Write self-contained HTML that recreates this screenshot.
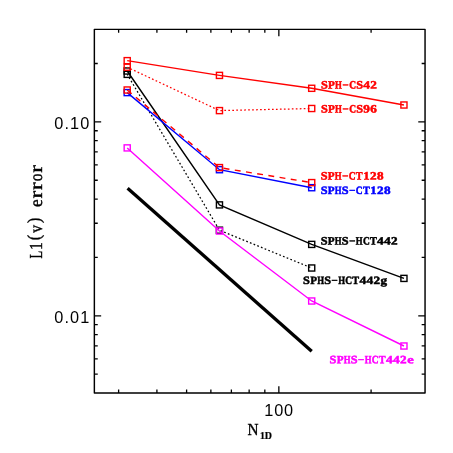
<!DOCTYPE html>
<html lang="en"><head><meta charset="utf-8"><title>L1(v) error</title>
<style>html,body{margin:0;padding:0;background:#fff;}svg{display:block;will-change:transform;}</style></head>
<body>
<svg width="453" height="453" viewBox="0 0 453 453">
<rect width="453" height="453" fill="#fff"/>
<line x1="127.6" y1="188.15" x2="311.7" y2="351.2" stroke="#000" stroke-width="3.3"/>
<polyline points="127.21,74.35 219.46,230.20 311.70,268.00" fill="none" stroke="#000" stroke-width="1.25" stroke-dasharray="1.7 2.27" stroke-dashoffset="0.35"/>
<rect x="124.16" y="71.30" width="6.1" height="6.1" fill="none" stroke="#000" stroke-width="1.4"/>
<rect x="216.41" y="227.15" width="6.1" height="6.1" fill="none" stroke="#000" stroke-width="1.4"/>
<rect x="308.65" y="264.95" width="6.1" height="6.1" fill="none" stroke="#000" stroke-width="1.4"/>
<polyline points="127.21,71.00 219.46,204.90 311.70,244.40 403.94,278.40" fill="none" stroke="#000" stroke-width="1.4"/>
<rect x="124.16" y="67.95" width="6.1" height="6.1" fill="none" stroke="#000" stroke-width="1.4"/>
<rect x="216.41" y="201.85" width="6.1" height="6.1" fill="none" stroke="#000" stroke-width="1.4"/>
<rect x="308.65" y="241.35" width="6.1" height="6.1" fill="none" stroke="#000" stroke-width="1.4"/>
<rect x="400.89" y="275.35" width="6.1" height="6.1" fill="none" stroke="#000" stroke-width="1.4"/>
<polyline points="127.21,147.90 219.46,231.00 311.70,301.00 403.94,346.00" fill="none" stroke="#f0f" stroke-width="1.4"/>
<rect x="124.16" y="144.85" width="6.1" height="6.1" fill="none" stroke="#f0f" stroke-width="1.4"/>
<rect x="216.41" y="227.95" width="6.1" height="6.1" fill="none" stroke="#f0f" stroke-width="1.4"/>
<rect x="308.65" y="297.95" width="6.1" height="6.1" fill="none" stroke="#f0f" stroke-width="1.4"/>
<rect x="400.89" y="342.95" width="6.1" height="6.1" fill="none" stroke="#f0f" stroke-width="1.4"/>
<polyline points="127.21,92.60 219.46,169.70 311.70,187.70" fill="none" stroke="#00f" stroke-width="1.4"/>
<rect x="124.16" y="89.55" width="6.1" height="6.1" fill="none" stroke="#00f" stroke-width="1.4"/>
<rect x="216.41" y="166.65" width="6.1" height="6.1" fill="none" stroke="#00f" stroke-width="1.4"/>
<rect x="308.65" y="184.65" width="6.1" height="6.1" fill="none" stroke="#00f" stroke-width="1.4"/>
<polyline points="127.21,67.20 219.46,110.60 311.70,108.50" fill="none" stroke="#f00" stroke-width="1.25" stroke-dasharray="1.7 2.27" stroke-dashoffset="0.35"/>
<rect x="124.16" y="64.15" width="6.1" height="6.1" fill="none" stroke="#f00" stroke-width="1.4"/>
<rect x="216.41" y="107.55" width="6.1" height="6.1" fill="none" stroke="#f00" stroke-width="1.4"/>
<rect x="308.65" y="105.45" width="6.1" height="6.1" fill="none" stroke="#f00" stroke-width="1.4"/>
<polyline points="127.21,90.00 219.46,167.60 311.70,182.60" fill="none" stroke="#f00" stroke-width="1.4" stroke-dasharray="5.9 5.44"/>
<rect x="124.16" y="86.95" width="6.1" height="6.1" fill="none" stroke="#f00" stroke-width="1.4"/>
<rect x="216.41" y="164.55" width="6.1" height="6.1" fill="none" stroke="#f00" stroke-width="1.4"/>
<rect x="308.65" y="179.55" width="6.1" height="6.1" fill="none" stroke="#f00" stroke-width="1.4"/>
<polyline points="127.21,60.65 219.46,75.40 311.70,88.30 403.94,105.00" fill="none" stroke="#f00" stroke-width="1.4"/>
<rect x="124.16" y="57.60" width="6.1" height="6.1" fill="none" stroke="#f00" stroke-width="1.4"/>
<rect x="216.41" y="72.35" width="6.1" height="6.1" fill="none" stroke="#f00" stroke-width="1.4"/>
<rect x="308.65" y="85.25" width="6.1" height="6.1" fill="none" stroke="#f00" stroke-width="1.4"/>
<rect x="400.89" y="101.95" width="6.1" height="6.1" fill="none" stroke="#f00" stroke-width="1.4"/>
<rect x="94.36" y="29.35" width="330.69" height="363.60" fill="none" stroke="#000" stroke-width="1.45" stroke-linejoin="round"/>
<path d="M118.62 392.95v-3.4M118.62 29.35v3.4M156.91 392.95v-3.4M156.91 29.35v3.4M186.60 392.95v-3.4M186.60 29.35v3.4M210.87 392.95v-3.4M210.87 29.35v3.4M231.38 392.95v-3.4M231.38 29.35v3.4M249.15 392.95v-3.4M249.15 29.35v3.4M264.83 392.95v-3.4M264.83 29.35v3.4M278.85 392.95v-6.8M278.85 29.35v6.8M371.09 392.95v-3.4M371.09 29.35v3.4M94.36 63.50h3.4M425.05 63.50h-3.4M94.36 121.87h6.8M425.05 121.87h-6.8M94.36 130.74h3.4M425.05 130.74h-3.4M94.36 140.66h3.4M425.05 140.66h-3.4M94.36 151.91h3.4M425.05 151.91h-3.4M94.36 164.89h3.4M425.05 164.89h-3.4M94.36 180.24h3.4M425.05 180.24h-3.4M94.36 199.04h3.4M425.05 199.04h-3.4M94.36 223.26h3.4M425.05 223.26h-3.4M94.36 257.41h3.4M425.05 257.41h-3.4M94.36 315.78h6.8M425.05 315.78h-6.8M94.36 324.66h3.4M425.05 324.66h-3.4M94.36 334.58h3.4M425.05 334.58h-3.4M94.36 345.82h3.4M425.05 345.82h-3.4M94.36 358.80h3.4M425.05 358.80h-3.4M94.36 374.16h3.4M425.05 374.16h-3.4" stroke="#000" stroke-width="1.3" fill="none"/>
<text x="54.3" y="128.65" letter-spacing="1.1" font-family="Liberation Sans, sans-serif" font-size="16.3" fill="#000">0.10</text>
<text x="54.3" y="322.55" letter-spacing="1.1" font-family="Liberation Sans, sans-serif" font-size="16.3" fill="#000">0.01</text>
<text x="264.3" y="415.85" letter-spacing="0.8" font-family="Liberation Sans, sans-serif" font-size="16.3" fill="#000">100</text>
<text transform="translate(247.5 435.2) scale(0.93 1)" font-family="Liberation Serif, serif" font-size="16.4" fill="#000" stroke="#000" stroke-width="0.35">N</text>
<text transform="translate(259.9 439.4) scale(0.91 1)" font-family="Liberation Serif, serif" font-weight="bold" font-size="10.9" fill="#000" stroke="#000" stroke-width="0.25">1D</text>
<g transform="translate(41.9 258.9) rotate(-90)"><text transform="translate(4.29 0.00) scale(0.690 1) rotate(0.06)" text-anchor="middle" font-family="Liberation Serif" font-weight="normal" font-size="18.3" fill="#000" stroke="#000" stroke-width="0.4">L</text>
<text transform="translate(12.86 0.00) scale(0.843 1) rotate(0.06)" text-anchor="middle" font-family="Liberation Serif" font-weight="normal" font-size="18.3" fill="#000" stroke="#000" stroke-width="0.4">1</text>
<text transform="translate(21.43 -2.00) scale(0.872 1) rotate(0.06)" text-anchor="middle" font-family="Liberation Serif" font-weight="normal" font-size="18.3" fill="#000" stroke="#000" stroke-width="0.4">(</text>
<text transform="translate(30.00 0.00) scale(0.843 1) rotate(0.06)" text-anchor="middle" font-family="Liberation Serif" font-weight="normal" font-size="18.3" fill="#000" stroke="#000" stroke-width="0.4">v</text>
<text transform="translate(38.56 -2.00) scale(0.872 1) rotate(0.06)" text-anchor="middle" font-family="Liberation Serif" font-weight="normal" font-size="18.3" fill="#000" stroke="#000" stroke-width="0.4">)</text>
<text transform="translate(55.70 0.00) scale(0.950 1) rotate(0.06)" text-anchor="middle" font-family="Liberation Serif" font-weight="normal" font-size="18.3" fill="#000" stroke="#000" stroke-width="0.4">e</text>
<text transform="translate(64.28 0.00) scale(1.266 1) rotate(0.06)" text-anchor="middle" font-family="Liberation Serif" font-weight="normal" font-size="18.3" fill="#000" stroke="#000" stroke-width="0.4">r</text>
<text transform="translate(72.84 0.00) scale(1.266 1) rotate(0.06)" text-anchor="middle" font-family="Liberation Serif" font-weight="normal" font-size="18.3" fill="#000" stroke="#000" stroke-width="0.4">r</text>
<text transform="translate(81.42 0.00) scale(0.843 1) rotate(0.06)" text-anchor="middle" font-family="Liberation Serif" font-weight="normal" font-size="18.3" fill="#000" stroke="#000" stroke-width="0.4">o</text>
<text transform="translate(89.98 0.00) scale(1.266 1) rotate(0.06)" text-anchor="middle" font-family="Liberation Serif" font-weight="normal" font-size="18.3" fill="#000" stroke="#000" stroke-width="0.4">r</text></g>
<text transform="translate(324.41 88.50) scale(1.095 1) rotate(0.06)" text-anchor="middle" font-family="Liberation Serif" font-weight="bold" font-size="11.2" fill="#f00" stroke="#f00" stroke-width="0.5">S</text>
<text transform="translate(331.44 88.50) scale(0.997 1) rotate(0.06)" text-anchor="middle" font-family="Liberation Serif" font-weight="bold" font-size="11.2" fill="#f00" stroke="#f00" stroke-width="0.5">P</text>
<text transform="translate(338.47 88.50) scale(0.783 1) rotate(0.06)" text-anchor="middle" font-family="Liberation Serif" font-weight="bold" font-size="11.2" fill="#f00" stroke="#f00" stroke-width="0.5">H</text>
<text transform="translate(345.50 87.60) scale(0.904 1) rotate(0.06)" text-anchor="middle" font-family="Liberation Serif" font-weight="bold" font-size="11.2" fill="#f00" stroke="#f00" stroke-width="0.5">–</text>
<text transform="translate(352.53 88.50) scale(0.843 1) rotate(0.06)" text-anchor="middle" font-family="Liberation Serif" font-weight="bold" font-size="11.2" fill="#f00" stroke="#f00" stroke-width="0.5">C</text>
<text transform="translate(359.56 88.50) scale(1.095 1) rotate(0.06)" text-anchor="middle" font-family="Liberation Serif" font-weight="bold" font-size="11.2" fill="#f00" stroke="#f00" stroke-width="0.5">S</text>
<text transform="translate(366.59 88.50) scale(1.205 1) rotate(0.06)" text-anchor="middle" font-family="Liberation Serif" font-weight="bold" font-size="11.2" fill="#f00" stroke="#f00" stroke-width="0.5">4</text>
<text transform="translate(373.62 88.50) scale(1.180 1) rotate(0.06)" text-anchor="middle" font-family="Liberation Serif" font-weight="bold" font-size="11.2" fill="#f00" stroke="#f00" stroke-width="0.5">2</text>
<text transform="translate(324.41 112.40) scale(1.095 1) rotate(0.06)" text-anchor="middle" font-family="Liberation Serif" font-weight="bold" font-size="11.2" fill="#f00" stroke="#f00" stroke-width="0.5">S</text>
<text transform="translate(331.44 112.40) scale(0.997 1) rotate(0.06)" text-anchor="middle" font-family="Liberation Serif" font-weight="bold" font-size="11.2" fill="#f00" stroke="#f00" stroke-width="0.5">P</text>
<text transform="translate(338.47 112.40) scale(0.783 1) rotate(0.06)" text-anchor="middle" font-family="Liberation Serif" font-weight="bold" font-size="11.2" fill="#f00" stroke="#f00" stroke-width="0.5">H</text>
<text transform="translate(345.50 111.50) scale(0.904 1) rotate(0.06)" text-anchor="middle" font-family="Liberation Serif" font-weight="bold" font-size="11.2" fill="#f00" stroke="#f00" stroke-width="0.5">–</text>
<text transform="translate(352.53 112.40) scale(0.843 1) rotate(0.06)" text-anchor="middle" font-family="Liberation Serif" font-weight="bold" font-size="11.2" fill="#f00" stroke="#f00" stroke-width="0.5">C</text>
<text transform="translate(359.56 112.40) scale(1.095 1) rotate(0.06)" text-anchor="middle" font-family="Liberation Serif" font-weight="bold" font-size="11.2" fill="#f00" stroke="#f00" stroke-width="0.5">S</text>
<text transform="translate(366.59 112.40) scale(1.180 1) rotate(0.06)" text-anchor="middle" font-family="Liberation Serif" font-weight="bold" font-size="11.2" fill="#f00" stroke="#f00" stroke-width="0.5">9</text>
<text transform="translate(373.62 112.40) scale(1.180 1) rotate(0.06)" text-anchor="middle" font-family="Liberation Serif" font-weight="bold" font-size="11.2" fill="#f00" stroke="#f00" stroke-width="0.5">6</text>
<text transform="translate(324.12 179.40) scale(1.095 1) rotate(0.06)" text-anchor="middle" font-family="Liberation Serif" font-weight="bold" font-size="11.2" fill="#f00" stroke="#f00" stroke-width="0.5">S</text>
<text transform="translate(331.15 179.40) scale(0.997 1) rotate(0.06)" text-anchor="middle" font-family="Liberation Serif" font-weight="bold" font-size="11.2" fill="#f00" stroke="#f00" stroke-width="0.5">P</text>
<text transform="translate(338.18 179.40) scale(0.783 1) rotate(0.06)" text-anchor="middle" font-family="Liberation Serif" font-weight="bold" font-size="11.2" fill="#f00" stroke="#f00" stroke-width="0.5">H</text>
<text transform="translate(345.21 178.50) scale(0.904 1) rotate(0.06)" text-anchor="middle" font-family="Liberation Serif" font-weight="bold" font-size="11.2" fill="#f00" stroke="#f00" stroke-width="0.5">–</text>
<text transform="translate(352.24 179.40) scale(0.843 1) rotate(0.06)" text-anchor="middle" font-family="Liberation Serif" font-weight="bold" font-size="11.2" fill="#f00" stroke="#f00" stroke-width="0.5">C</text>
<text transform="translate(359.27 179.40) scale(0.913 1) rotate(0.06)" text-anchor="middle" font-family="Liberation Serif" font-weight="bold" font-size="11.2" fill="#f00" stroke="#f00" stroke-width="0.5">T</text>
<text transform="translate(366.30 179.40) scale(1.130 1) rotate(0.06)" text-anchor="middle" font-family="Liberation Serif" font-weight="bold" font-size="11.2" fill="#f00" stroke="#f00" stroke-width="0.5">1</text>
<text transform="translate(373.33 179.40) scale(1.180 1) rotate(0.06)" text-anchor="middle" font-family="Liberation Serif" font-weight="bold" font-size="11.2" fill="#f00" stroke="#f00" stroke-width="0.5">2</text>
<text transform="translate(380.36 179.40) scale(1.180 1) rotate(0.06)" text-anchor="middle" font-family="Liberation Serif" font-weight="bold" font-size="11.2" fill="#f00" stroke="#f00" stroke-width="0.5">8</text>
<text transform="translate(324.12 194.00) scale(1.095 1) rotate(0.06)" text-anchor="middle" font-family="Liberation Serif" font-weight="bold" font-size="11.2" fill="#00f" stroke="#00f" stroke-width="0.5">S</text>
<text transform="translate(331.15 194.00) scale(0.997 1) rotate(0.06)" text-anchor="middle" font-family="Liberation Serif" font-weight="bold" font-size="11.2" fill="#00f" stroke="#00f" stroke-width="0.5">P</text>
<text transform="translate(338.18 194.00) scale(0.783 1) rotate(0.06)" text-anchor="middle" font-family="Liberation Serif" font-weight="bold" font-size="11.2" fill="#00f" stroke="#00f" stroke-width="0.5">H</text>
<text transform="translate(345.21 194.00) scale(1.095 1) rotate(0.06)" text-anchor="middle" font-family="Liberation Serif" font-weight="bold" font-size="11.2" fill="#00f" stroke="#00f" stroke-width="0.5">S</text>
<text transform="translate(352.24 193.10) scale(0.904 1) rotate(0.06)" text-anchor="middle" font-family="Liberation Serif" font-weight="bold" font-size="11.2" fill="#00f" stroke="#00f" stroke-width="0.5">–</text>
<text transform="translate(359.27 194.00) scale(0.843 1) rotate(0.06)" text-anchor="middle" font-family="Liberation Serif" font-weight="bold" font-size="11.2" fill="#00f" stroke="#00f" stroke-width="0.5">C</text>
<text transform="translate(366.30 194.00) scale(0.913 1) rotate(0.06)" text-anchor="middle" font-family="Liberation Serif" font-weight="bold" font-size="11.2" fill="#00f" stroke="#00f" stroke-width="0.5">T</text>
<text transform="translate(373.33 194.00) scale(1.130 1) rotate(0.06)" text-anchor="middle" font-family="Liberation Serif" font-weight="bold" font-size="11.2" fill="#00f" stroke="#00f" stroke-width="0.5">1</text>
<text transform="translate(380.36 194.00) scale(1.180 1) rotate(0.06)" text-anchor="middle" font-family="Liberation Serif" font-weight="bold" font-size="11.2" fill="#00f" stroke="#00f" stroke-width="0.5">2</text>
<text transform="translate(387.38 194.00) scale(1.180 1) rotate(0.06)" text-anchor="middle" font-family="Liberation Serif" font-weight="bold" font-size="11.2" fill="#00f" stroke="#00f" stroke-width="0.5">8</text>
<text transform="translate(324.12 244.40) scale(1.095 1) rotate(0.06)" text-anchor="middle" font-family="Liberation Serif" font-weight="bold" font-size="11.2" fill="#000" stroke="#000" stroke-width="0.5">S</text>
<text transform="translate(331.15 244.40) scale(0.997 1) rotate(0.06)" text-anchor="middle" font-family="Liberation Serif" font-weight="bold" font-size="11.2" fill="#000" stroke="#000" stroke-width="0.5">P</text>
<text transform="translate(338.18 244.40) scale(0.783 1) rotate(0.06)" text-anchor="middle" font-family="Liberation Serif" font-weight="bold" font-size="11.2" fill="#000" stroke="#000" stroke-width="0.5">H</text>
<text transform="translate(345.21 244.40) scale(1.095 1) rotate(0.06)" text-anchor="middle" font-family="Liberation Serif" font-weight="bold" font-size="11.2" fill="#000" stroke="#000" stroke-width="0.5">S</text>
<text transform="translate(352.24 243.50) scale(0.904 1) rotate(0.06)" text-anchor="middle" font-family="Liberation Serif" font-weight="bold" font-size="11.2" fill="#000" stroke="#000" stroke-width="0.5">–</text>
<text transform="translate(359.27 244.40) scale(0.783 1) rotate(0.06)" text-anchor="middle" font-family="Liberation Serif" font-weight="bold" font-size="11.2" fill="#000" stroke="#000" stroke-width="0.5">H</text>
<text transform="translate(366.30 244.40) scale(0.843 1) rotate(0.06)" text-anchor="middle" font-family="Liberation Serif" font-weight="bold" font-size="11.2" fill="#000" stroke="#000" stroke-width="0.5">C</text>
<text transform="translate(373.33 244.40) scale(0.913 1) rotate(0.06)" text-anchor="middle" font-family="Liberation Serif" font-weight="bold" font-size="11.2" fill="#000" stroke="#000" stroke-width="0.5">T</text>
<text transform="translate(380.36 244.40) scale(1.205 1) rotate(0.06)" text-anchor="middle" font-family="Liberation Serif" font-weight="bold" font-size="11.2" fill="#000" stroke="#000" stroke-width="0.5">4</text>
<text transform="translate(387.38 244.40) scale(1.205 1) rotate(0.06)" text-anchor="middle" font-family="Liberation Serif" font-weight="bold" font-size="11.2" fill="#000" stroke="#000" stroke-width="0.5">4</text>
<text transform="translate(394.42 244.40) scale(1.180 1) rotate(0.06)" text-anchor="middle" font-family="Liberation Serif" font-weight="bold" font-size="11.2" fill="#000" stroke="#000" stroke-width="0.5">2</text>
<text transform="translate(306.51 284.00) scale(1.095 1) rotate(0.06)" text-anchor="middle" font-family="Liberation Serif" font-weight="bold" font-size="11.2" fill="#000" stroke="#000" stroke-width="0.5">S</text>
<text transform="translate(313.55 284.00) scale(0.997 1) rotate(0.06)" text-anchor="middle" font-family="Liberation Serif" font-weight="bold" font-size="11.2" fill="#000" stroke="#000" stroke-width="0.5">P</text>
<text transform="translate(320.57 284.00) scale(0.783 1) rotate(0.06)" text-anchor="middle" font-family="Liberation Serif" font-weight="bold" font-size="11.2" fill="#000" stroke="#000" stroke-width="0.5">H</text>
<text transform="translate(327.61 284.00) scale(1.095 1) rotate(0.06)" text-anchor="middle" font-family="Liberation Serif" font-weight="bold" font-size="11.2" fill="#000" stroke="#000" stroke-width="0.5">S</text>
<text transform="translate(334.63 283.10) scale(0.904 1) rotate(0.06)" text-anchor="middle" font-family="Liberation Serif" font-weight="bold" font-size="11.2" fill="#000" stroke="#000" stroke-width="0.5">–</text>
<text transform="translate(341.67 284.00) scale(0.783 1) rotate(0.06)" text-anchor="middle" font-family="Liberation Serif" font-weight="bold" font-size="11.2" fill="#000" stroke="#000" stroke-width="0.5">H</text>
<text transform="translate(348.69 284.00) scale(0.843 1) rotate(0.06)" text-anchor="middle" font-family="Liberation Serif" font-weight="bold" font-size="11.2" fill="#000" stroke="#000" stroke-width="0.5">C</text>
<text transform="translate(355.73 284.00) scale(0.913 1) rotate(0.06)" text-anchor="middle" font-family="Liberation Serif" font-weight="bold" font-size="11.2" fill="#000" stroke="#000" stroke-width="0.5">T</text>
<text transform="translate(362.75 284.00) scale(1.205 1) rotate(0.06)" text-anchor="middle" font-family="Liberation Serif" font-weight="bold" font-size="11.2" fill="#000" stroke="#000" stroke-width="0.5">4</text>
<text transform="translate(369.78 284.00) scale(1.205 1) rotate(0.06)" text-anchor="middle" font-family="Liberation Serif" font-weight="bold" font-size="11.2" fill="#000" stroke="#000" stroke-width="0.5">4</text>
<text transform="translate(376.81 284.00) scale(1.180 1) rotate(0.06)" text-anchor="middle" font-family="Liberation Serif" font-weight="bold" font-size="11.2" fill="#000" stroke="#000" stroke-width="0.5">2</text>
<text transform="translate(383.85 284.00) scale(1.167 1) rotate(0.06)" text-anchor="middle" font-family="Liberation Serif" font-weight="bold" font-size="11.2" fill="#000" stroke="#000" stroke-width="0.5">g</text>
<text transform="translate(333.01 363.20) scale(1.095 1) rotate(0.06)" text-anchor="middle" font-family="Liberation Serif" font-weight="bold" font-size="11.2" fill="#f0f" stroke="#f0f" stroke-width="0.5">S</text>
<text transform="translate(340.05 363.20) scale(0.997 1) rotate(0.06)" text-anchor="middle" font-family="Liberation Serif" font-weight="bold" font-size="11.2" fill="#f0f" stroke="#f0f" stroke-width="0.5">P</text>
<text transform="translate(347.07 363.20) scale(0.783 1) rotate(0.06)" text-anchor="middle" font-family="Liberation Serif" font-weight="bold" font-size="11.2" fill="#f0f" stroke="#f0f" stroke-width="0.5">H</text>
<text transform="translate(354.11 363.20) scale(1.095 1) rotate(0.06)" text-anchor="middle" font-family="Liberation Serif" font-weight="bold" font-size="11.2" fill="#f0f" stroke="#f0f" stroke-width="0.5">S</text>
<text transform="translate(361.13 362.30) scale(0.904 1) rotate(0.06)" text-anchor="middle" font-family="Liberation Serif" font-weight="bold" font-size="11.2" fill="#f0f" stroke="#f0f" stroke-width="0.5">–</text>
<text transform="translate(368.17 363.20) scale(0.783 1) rotate(0.06)" text-anchor="middle" font-family="Liberation Serif" font-weight="bold" font-size="11.2" fill="#f0f" stroke="#f0f" stroke-width="0.5">H</text>
<text transform="translate(375.19 363.20) scale(0.843 1) rotate(0.06)" text-anchor="middle" font-family="Liberation Serif" font-weight="bold" font-size="11.2" fill="#f0f" stroke="#f0f" stroke-width="0.5">C</text>
<text transform="translate(382.23 363.20) scale(0.913 1) rotate(0.06)" text-anchor="middle" font-family="Liberation Serif" font-weight="bold" font-size="11.2" fill="#f0f" stroke="#f0f" stroke-width="0.5">T</text>
<text transform="translate(389.25 363.20) scale(1.205 1) rotate(0.06)" text-anchor="middle" font-family="Liberation Serif" font-weight="bold" font-size="11.2" fill="#f0f" stroke="#f0f" stroke-width="0.5">4</text>
<text transform="translate(396.28 363.20) scale(1.205 1) rotate(0.06)" text-anchor="middle" font-family="Liberation Serif" font-weight="bold" font-size="11.2" fill="#f0f" stroke="#f0f" stroke-width="0.5">4</text>
<text transform="translate(403.31 363.20) scale(1.180 1) rotate(0.06)" text-anchor="middle" font-family="Liberation Serif" font-weight="bold" font-size="11.2" fill="#f0f" stroke="#f0f" stroke-width="0.5">2</text>
<text transform="translate(410.35 363.20) scale(1.301 1) rotate(0.06)" text-anchor="middle" font-family="Liberation Serif" font-weight="bold" font-size="11.2" fill="#f0f" stroke="#f0f" stroke-width="0.5">e</text>
</svg>
</body></html>
